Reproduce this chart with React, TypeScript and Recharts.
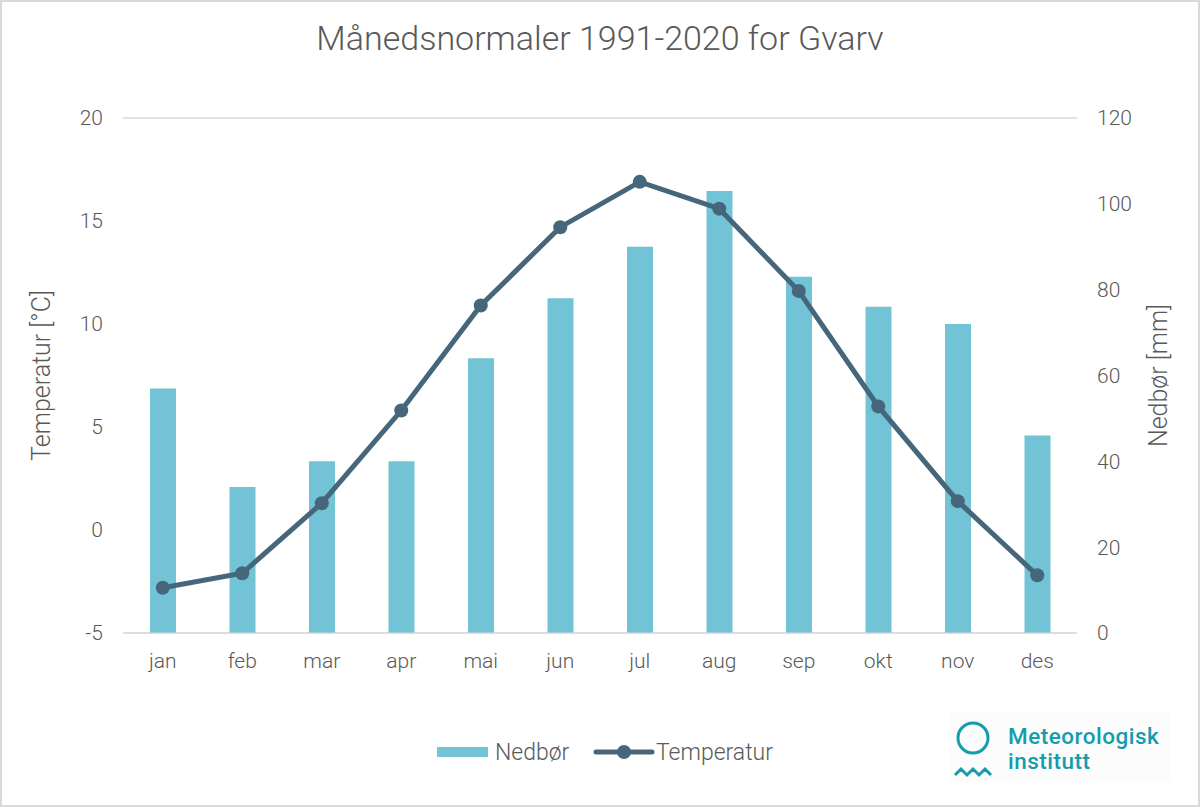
import React from "react";
import {
	ComposedChart,
	Bar,
	Line,
	XAxis,
	YAxis,
	CartesianGrid,
	Legend,
} from "recharts";

const months = ["jan", "feb", "mar", "apr", "mai", "jun", "jul", "aug", "sep", "okt", "nov", "des"];
const precipitation = [57, 34, 40, 40, 64, 78, 90, 103, 83, 76, 72, 46];
const temperature = [-2.8, -2.1, 1.3, 5.8, 10.9, 14.7, 16.9, 15.6, 11.6, 6.0, 1.4, -2.2];
const tempTicks = [-5, 0, 5, 10, 15, 20];
const precipTicks = [0, 20, 40, 60, 80, 100, 120];

const data = months.map((m, i) => ({
	month: m,
	nedbor: precipitation[i],
	temp: temperature[i],
}));

const FONT = "Roboto, sans-serif";
const TEXT = "#595959";
const BAR = "#72c3d6";
const LINE = "#46667b";
const TEAL = "#149cad";

function LegendContent() {
	return (
		<svg width={380} height={30}>
			<rect x={17} y={10} width={51} height={10} fill={BAR} />
			<text x={75} y={23} fontSize={23} fill={TEXT} fontFamily={FONT} fontWeight={300}>
				Nedbør
			</text>
			<line x1={176} y1={15} x2={232} y2={15} stroke={LINE} strokeWidth={5} strokeLinecap="round" />
			<circle cx={204} cy={15} r={7} fill={LINE} />
			<text x={236} y={23} fontSize={23} fill={TEXT} fontFamily={FONT} fontWeight={300}>
				Temperatur
			</text>
		</svg>
	);
}

export default function App() {
	return (
		<div
			style={{
				position: "fixed",
				left: 0,
				top: 0,
				width: 1200,
				height: 807,
				background: "#fff",
				boxSizing: "border-box",
				border: "2px solid #d9d9d9",
				fontFamily: FONT,
			}}
		>
			<div
				style={{
					position: "absolute",
					top: 16,
					left: 0,
					width: 1196,
					textAlign: "center",
					fontSize: 34,
					fontWeight: 300,
					color: TEXT,
				}}
			>
				Månedsnormaler 1991-2020 for Gvarv
			</div>
			<div style={{ position: "absolute", left: -2, top: -2 }}>
				<ComposedChart
					width={1200}
					height={807}
					data={data}
					margin={{ top: 118, right: 0, bottom: 0, left: 0 }}
				>
					<CartesianGrid vertical={false} stroke="#d9d9d9" strokeWidth={1.5} />
					<XAxis
						dataKey="month"
						height={140}
						axisLine={{ stroke: "#d9d9d9" }}
						tickLine={false}
						tickMargin={14}
						tick={{ fontSize: 21, fill: TEXT, fontFamily: FONT, fontWeight: 300 }}
					/>
					<YAxis
						yAxisId="t"
						orientation="left"
						width={123}
						domain={[-5, 20]}
						ticks={tempTicks}
						axisLine={false}
						tickLine={false}
						tickMargin={14}
						tick={{ fontSize: 21, fill: TEXT, fontFamily: FONT, fontWeight: 300 }}
						label={{
							value: "Temperatur [°C]",
							angle: -90,
							position: "center",
							dx: -20,
							fontSize: 25,
							fill: TEXT,
							fontFamily: FONT,
							fontWeight: 300,
						}}
					/>
					<YAxis
						yAxisId="p"
						orientation="right"
						width={123}
						domain={[0, 120]}
						ticks={precipTicks}
						axisLine={false}
						tickLine={false}
						tickMargin={14}
						tick={{ fontSize: 21, fill: TEXT, fontFamily: FONT, fontWeight: 300 }}
						label={{
							value: "Nedbør [mm]",
							angle: -90,
							position: "center",
							dx: 20,
							fontSize: 25,
							fill: TEXT,
							fontFamily: FONT,
							fontWeight: 300,
						}}
					/>
					<Bar yAxisId="p" dataKey="nedbor" name="Nedbør" fill={BAR} barSize={26} isAnimationActive={false} />
					<Line
						yAxisId="t"
						dataKey="temp"
						name="Temperatur"
						stroke={LINE}
						strokeWidth={5}
						dot={{ r: 7, fill: LINE, stroke: LINE, strokeWidth: 0 }}
						isAnimationActive={false}
					/>
					<Legend
						content={<LegendContent />}
						wrapperStyle={{ left: 420, top: 737, width: 380 }}
					/>
				</ComposedChart>
			</div>
			<div
				style={{
					position: "absolute",
					left: 948,
					top: 710,
					width: 220,
					height: 70,
					background: "#fcfcfc",
				}}
			>
				<svg width={220} height={70} style={{ position: "absolute", left: 0, top: 0 }}>
					<circle cx={23} cy={26} r={15} fill="none" stroke={TEAL} strokeWidth={3} />
					<polyline
						points="5,63 11,57 17,63 23,57 29,63 35,57 41,63"
						fill="none"
						stroke={TEAL}
						strokeWidth={3}
					/>
					<text x={58} y={32} fontSize={22.5} fontWeight={500} fill={TEAL} fontFamily={FONT} letterSpacing={0.5}>
						Meteorologisk
					</text>
					<text x={58} y={57} fontSize={22.5} fontWeight={500} fill={TEAL} fontFamily={FONT} letterSpacing={0.5}>
						institutt
					</text>
				</svg>
			</div>
		</div>
	);
}
